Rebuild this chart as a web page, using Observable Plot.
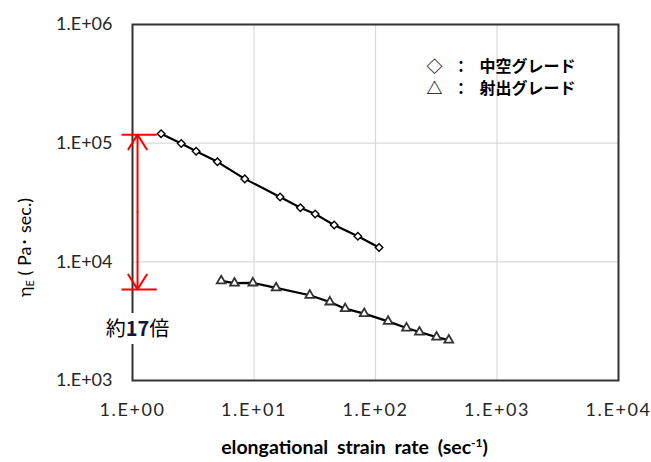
<!DOCTYPE html>
<html><head><meta charset="utf-8">
<script src="https://cdn.jsdelivr.net/npm/d3@7"></script>
<script src="https://cdn.jsdelivr.net/npm/@observablehq/plot@0.6"></script>
<style>body{margin:0;background:#fff} svg{display:block}</style>
</head><body><div id="chart"></div>
<script>
// 中空グレード (diamonds)
const hollowRate = [1.72, 2.52, 3.34, 5.0, 8.4, 16.4, 24.1, 31.9, 45.7, 71.6, 107];
const hollowVisc = [1.20e5, 9.94e4, 8.56e4, 6.96e4, 5.0e4, 3.52e4, 2.86e4, 2.53e4, 2.04e4, 1.64e4, 1.32e4];
// 射出グレード (triangles)
const injRate = [5.37, 6.91, 9.78, 15.2, 28.8, 42.1, 56.3, 80.7, 127, 180, 230, 318, 401];
const injVisc = [6.91e3, 6.61e3, 6.64e3, 6.03e3, 5.23e3, 4.59e3, 4.03e3, 3.66e3, 3.15e3, 2.77e3, 2.56e3, 2.32e3, 2.19e3];
const xTicks = [1, 10, 100, 1000, 10000];
const yTicks = [1e3, 1e4, 1e5, 1e6];
const legendSymbols = ["◇", "△"];
const legendNames = ["中空グレード", "射出グレード"];
// ratio bracket annotation (data units)
const bracketX = 1.10, bracketLeft = 0.82, bracketRight = 1.60;
const bracketTop = 1.18e5, bracketBottom = 5.86e3;
const ratioY = 2.66e3;
const ratioLabel = "約17倍";
const yLabel = "ηE ( Pa･ sec.)";
const xLabel = "elongational strain rate (sec-1)";

const fmt = d => "1.E+" + String(Math.round(Math.log10(d))).padStart(2, "0");
const hollow = hollowRate.map((x, i) => ({x, y: hollowVisc[i]}));
const inj = injRate.map((x, i) => ({x, y: injVisc[i]}));
const bracketMid = Math.sqrt(bracketTop * bracketBottom);
const arrows = [{a: bracketMid, b: bracketTop}, {a: bracketMid, b: bracketBottom}];
const CJK = "'Noto Sans CJK JP', sans-serif";

const svg = Plot.plot({
  width: 651, height: 462,
  marginLeft: 132, marginRight: 33, marginTop: 24, marginBottom: 82,
  style: {fontFamily: "Lato, 'Noto Sans CJK JP', sans-serif", fontSize: "17px", color: "#262626", background: "#fff", overflow: "visible"},
  x: {type: "log", domain: [1, 1e4]},
  y: {type: "log", domain: [1e3, 1e6]},
  marks: [
    Plot.gridX(xTicks, {stroke: "#d9d9d9", strokeOpacity: 1, strokeWidth: 1.2}),
    Plot.gridY(yTicks, {stroke: "#d9d9d9", strokeOpacity: 1, strokeWidth: 1.2}),
    Plot.frame({stroke: "#333", strokeWidth: 2}),
    Plot.axisX(xTicks, {tickSize: 0, tickPadding: 23, tickFormat: fmt, label: null, fontSize: 18}),
    Plot.axisY(yTicks, {tickSize: 0, tickPadding: 20, tickFormat: fmt, label: null, fontSize: 18}),
    Plot.line(hollow, {x: "x", y: "y", stroke: "#000", strokeWidth: 2.2}),
    Plot.dot(hollow, {x: "x", y: "y", symbol: "diamond2", r: 3.4, fill: "#fff", stroke: "#000", strokeWidth: 1.4}),
    Plot.line(inj, {x: "x", y: "y", stroke: "#000", strokeWidth: 2.2}),
    Plot.dot(inj, {x: "x", y: "y", symbol: "triangle2", r: 4.2, fill: "#fff", stroke: "#333", strokeWidth: 1.8}),
    // red bracket
    Plot.ruleY([bracketTop, bracketBottom], {x1: bracketLeft, x2: bracketRight, stroke: "#ff0000", strokeWidth: 2, clip: false}),
    Plot.arrow(arrows, {x1: bracketX, x2: bracketX, y1: "a", y2: "b", stroke: "#ff0000", strokeWidth: 2, headLength: 13, headAngle: 64, bend: 0}),
    // ratio label: white halo copy, then the visible copy
    Plot.text([ratioLabel], {x: bracketX, y: ratioY, text: d => d, fontSize: 20, fontFamily: CJK, fill: "#fff", stroke: "#fff", strokeWidth: 16}),
    Plot.text([ratioLabel], {x: bracketX, y: ratioY, text: d => d, fontSize: 20, fontFamily: CJK, fill: "#000"}),
    // legend
    Plot.text([legendSymbols.join("\n")], {frameAnchor: "top-left", dx: 302, dy: 32, text: d => d, textAnchor: "middle", lineHeight: 1.375, fontSize: 16, fontFamily: CJK, fontWeight: "bold", fill: "#000"}),
    Plot.text([legendSymbols.map(() => "：").join("\n")], {frameAnchor: "top-left", dx: 328.5, dy: 32, text: d => d, textAnchor: "middle", lineHeight: 1.375, fontSize: 16, fontFamily: CJK, fontWeight: "bold", fill: "#000"}),
    Plot.text([legendNames.join("\n")], {frameAnchor: "top-left", dx: 347, dy: 32, text: d => d, textAnchor: "start", lineHeight: 1.375, fontSize: 16, fontFamily: CJK, fontWeight: "bold", fill: "#000"}),
    // axis titles
    Plot.text([yLabel], {frameAnchor: "left", dx: -107, dy: 45, rotate: -90, textAnchor: "middle", text: d => d, fontSize: 18, fill: "#000"}),
    Plot.text([xLabel], {frameAnchor: "bottom", dx: -21, dy: 73, textAnchor: "middle", text: d => d, fontSize: 19.5, fontWeight: "bold", fill: "#000"})
  ]
});

function restyle(content, parts, textAttr) {
  d3.select(svg).selectAll("text").filter(function () { return this.textContent === content; }).each(function () {
    const t = d3.select(this);
    const halo = t.attr("fill") === "#fff" || (this.parentNode && d3.select(this.parentNode).attr("fill") === "#fff");
    t.text(null);
    for (const k in (textAttr || {})) t.attr(k, textAttr[k]);
    parts.forEach(p => {
      const s = t.append("tspan").text(p.text);
      for (const k in (p.attr || {})) { if (halo && k === "fill") continue; s.attr(k, p.attr[k]); }
    });
  });
}
restyle(ratioLabel, [
  {text: ratioLabel.slice(0, 1)},
  {text: ratioLabel.slice(1, 3), attr: {"font-weight": "bold", fill: "#14143c"}},
  {text: ratioLabel.slice(3)}
]);
restyle(yLabel, [
  {text: yLabel.slice(0, 1)},
  {text: yLabel.slice(1, 2), attr: {"font-size": 11, dy: 3}},
  {text: yLabel.slice(2), attr: {dy: -3}}
]);
restyle(xLabel, [
  {text: xLabel.slice(0, -3)},
  {text: xLabel.slice(-3, -1), attr: {"font-size": 12, dy: -7}},
  {text: xLabel.slice(-1), attr: {dy: 7}}
], {"word-spacing": 4});
// x tick labels are slightly letter-spaced in the reference
d3.select(svg).selectAll("g[aria-label='x-axis tick label'] text").attr("letter-spacing", 1.6);
document.getElementById("chart").appendChild(svg);
</script>
</body></html>
